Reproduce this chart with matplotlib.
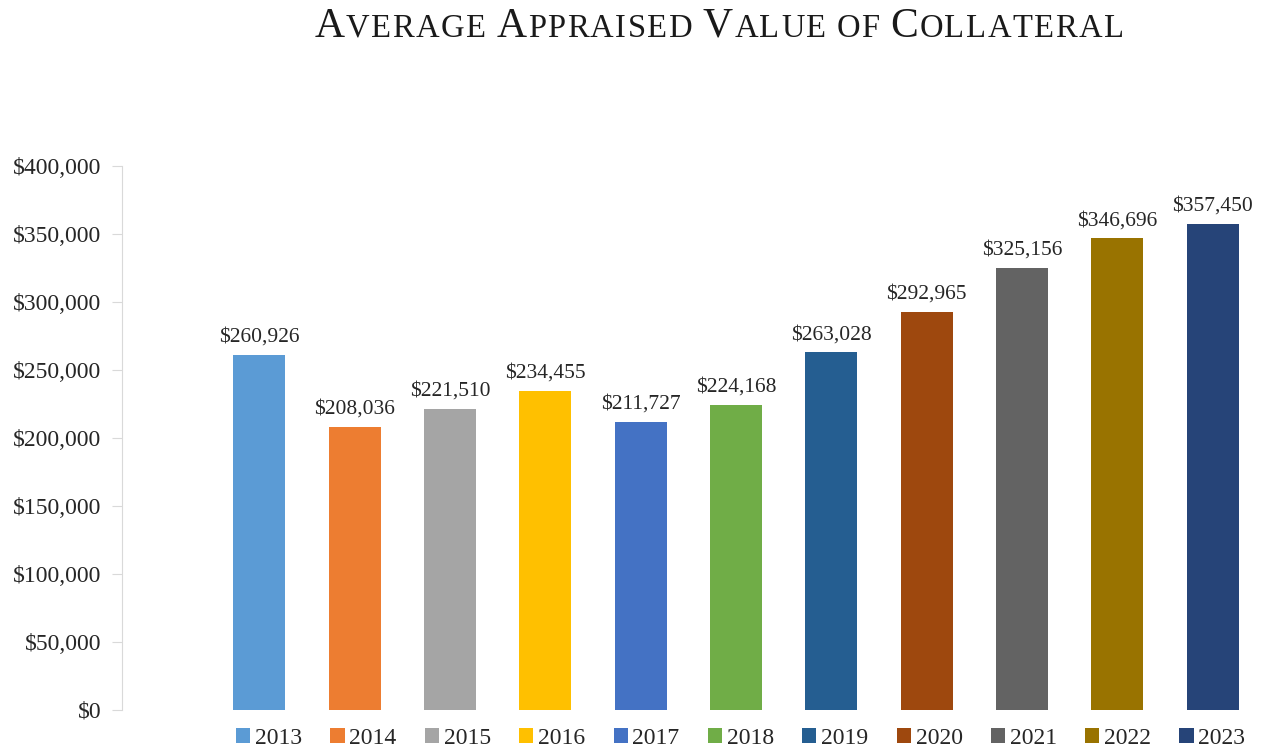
import matplotlib.pyplot as plt
from matplotlib.ticker import FuncFormatter
from matplotlib.patches import Patch

years = ['2013', '2014', '2015', '2016', '2017', '2018', '2019', '2020', '2021', '2022', '2023']
values = [260926, 208036, 221510, 234455, 211727, 224168, 263028, 292965, 325156, 346696, 357450]
colors = ['#5B9BD5', '#ED7D31', '#A5A5A5', '#FFC000', '#4472C4', '#70AD47',
          '#255E91', '#9E480E', '#636363', '#997300', '#264478']

plt.rcParams['font.family'] = ['Liberation Serif', 'DejaVu Serif']

fig = plt.figure(figsize=(12.64, 7.52), dpi=100)
ax = fig.add_axes([0.0965, 0.0559, 0.9005, 0.7234])

x = list(range(len(years)))
ax.bar(x, values, width=0.545, color=colors)
for xi, v in zip(x, values):
    ax.text(xi, v + 6000, '${:,}'.format(v), ha='center', va='bottom', fontsize=15.5, color='#262626')

ax.set_xlim(-1.44, 10.5)
ax.set_ylim(0, 400000)
ax.set_yticks(range(0, 400001, 50000))
ax.yaxis.set_major_formatter(FuncFormatter(lambda v, p: '${:,}'.format(int(v))))
ax.tick_params(axis='y', labelsize=17, colors='#D9D9D9', labelcolor='#262626', length=7, pad=8)
ax.set_xticks([])
for s in ['top', 'right', 'bottom']:
    ax.spines[s].set_visible(False)
ax.spines['left'].set_color('#D9D9D9')

handles = [Patch(facecolor=c, label=y) for c, y in zip(colors, years)]
fig.legend(handles=handles, loc='center', bbox_to_anchor=(0.586, 0.018), ncol=11, frameon=False,
           fontsize=17, handlelength=0.6, handleheight=0.6, handletextpad=0.2, columnspacing=1.2,
           labelcolor='#262626')

# small caps title, drawn letter by letter with a little tracking
parts = [('A', 30), ('VERAGE', 23.5), (' ', 23.5), ('A', 30), ('PPRAISED', 23.5), (' ', 23.5),
         ('V', 30), ('ALUE', 23.5), (' ', 23.5), ('OF', 23.5), (' ', 23.5),
         ('C', 30), ('OLLATERAL', 23.5)]
fig.canvas.draw()
renderer = fig.canvas.get_renderer()
texts = []
xpos = 0.0
track = 1.5 / fig.bbox.width
for s, fs in parts:
    for ch in s:
        if ch == ' ':
            xpos += 9 / fig.bbox.width
            continue
        t = fig.text(xpos, 0.951, ch, fontsize=fs, ha='left', va='baseline', color='#1a1a1a')
        w = t.get_window_extent(renderer).width / fig.bbox.width
        texts.append((t, xpos))
        xpos += w + track
xpos -= track
start = 0.5688 - xpos / 2
for t, xp in texts:
    t.set_x(start + xp)

fig.savefig('out.png', dpi=100)
